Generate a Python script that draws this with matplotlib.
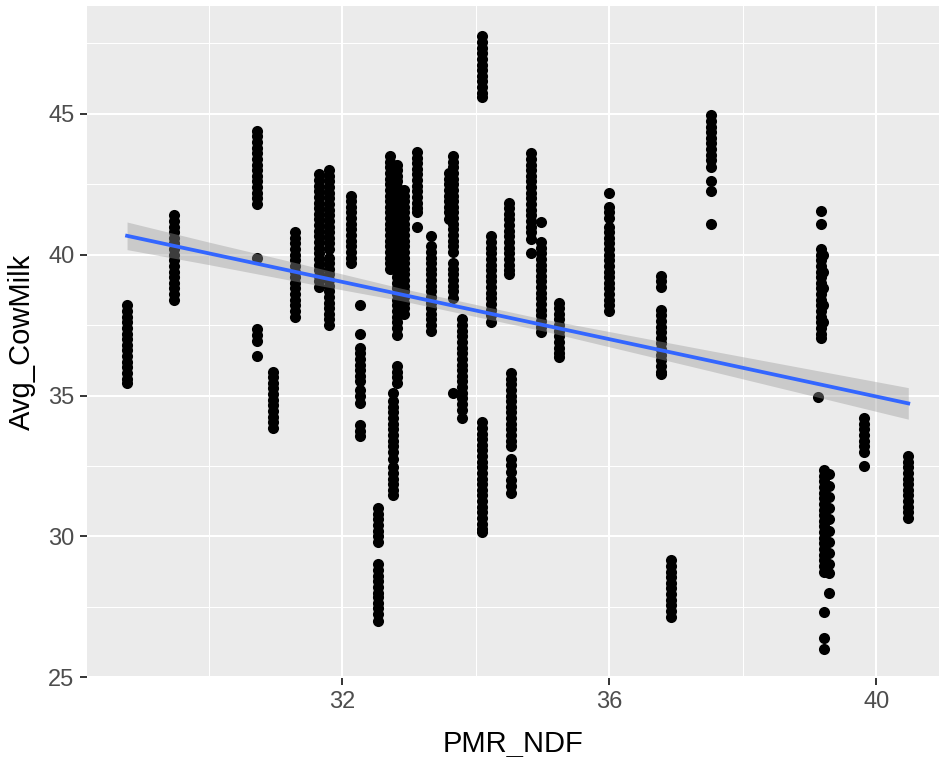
import numpy as np
import matplotlib
matplotlib.use("Agg")
import matplotlib.pyplot as plt
from matplotlib.ticker import MultipleLocator

plt.rcParams['font.family'] = ['Liberation Sans', 'DejaVu Sans']

# PMR_NDF de cada columna de puntos
pmr_ndf = [28.78, 29.48, 30.73, 30.97, 31.30, 31.65, 31.80, 32.14, 32.27, 32.54,
           32.72, 32.76, 32.83, 32.93, 33.12, 33.33, 33.60, 33.66, 33.79, 34.09,
           34.23, 34.50, 34.53, 34.83, 34.98, 35.25, 36.00, 36.78, 36.92, 37.53,
           39.13, 39.18, 39.21, 39.22, 39.29, 39.82, 40.48]

# Avg_CowMilk de los puntos de cada columna
cow_milk = [
    [38.2, 38.0, 37.8, 37.6, 37.4, 37.2, 37.0, 36.8, 36.6, 36.4, 36.2, 36.0, 35.8, 35.6, 35.45],
    [41.4, 41.2, 41.0, 40.8, 40.6, 40.4, 40.2, 40.0, 39.8, 39.6, 39.4, 39.2, 39.0, 38.8,
     38.6, 38.4],
    [44.4, 44.2, 44.0, 43.8, 43.6, 43.4, 43.2, 43.0, 42.8, 42.6, 42.4, 42.2, 42.0, 41.8,
     39.9, 37.35, 37.15, 36.95, 36.4],
    [35.85, 35.65, 35.45, 35.25, 35.05, 34.85, 34.65, 34.45, 34.25, 34.05, 33.85],
    [40.8, 40.6, 40.4, 40.2, 40.0, 39.8, 39.6, 39.4, 39.2, 39.0, 38.8, 38.6, 38.4, 38.2,
     38.0, 37.8],
    [42.85, 42.65, 42.45, 42.25, 42.05, 41.85, 41.65, 41.45, 41.25, 41.05, 40.85, 40.65,
     40.45, 40.25, 40.05, 39.85, 39.65, 39.45, 39.25, 39.05, 38.85],
    [43.0, 42.8, 42.6, 42.4, 42.2, 42.0, 41.8, 41.6, 41.4, 41.2, 41.0, 40.8, 40.6, 40.4,
     40.2, 39.9, 39.7, 39.5, 39.3, 39.1, 38.9, 38.7, 38.5, 38.3, 38.1, 37.9, 37.7, 37.5],
    [42.1, 41.9, 41.7, 41.5, 41.3, 41.1, 40.9, 40.7, 40.5, 40.3, 40.1, 39.9, 39.7],
    [38.2, 37.2, 36.7, 36.5, 36.3, 36.1, 35.9, 35.7, 35.5, 35.2, 35.0, 34.75, 33.95,
     33.75, 33.55],
    [31.0, 30.8, 30.6, 30.4, 30.2, 30.0, 29.8, 29.0, 28.8, 28.6, 28.4, 28.2, 28.0, 27.85,
     27.65, 27.45, 27.25, 27.0],
    [43.5, 43.3, 43.1, 42.9, 42.7, 42.5, 42.3, 42.1, 41.9, 41.7, 41.5, 41.3, 41.1, 40.9,
     40.7, 40.5, 40.3, 40.1, 39.9, 39.7, 39.5],
    [35.1, 34.8, 34.6, 34.4, 34.2, 34.0, 33.8, 33.6, 33.4, 33.2, 33.0, 32.75, 32.45,
     32.25, 32.05, 31.85, 31.65, 31.45],
    [43.2, 43.0, 42.8, 42.6, 42.4, 42.2, 42.0, 41.8, 41.6, 41.4, 41.2, 41.0, 40.8, 40.6,
     40.4, 40.2, 40.0, 39.8, 39.6, 39.4, 39.2, 39.0, 38.8, 38.6, 38.4, 38.2, 38.0, 37.8,
     37.6, 37.4, 37.15, 36.05, 35.85, 35.65, 35.45],
    [42.3, 42.1, 41.9, 41.7, 41.5, 41.3, 41.1, 40.9, 40.7, 40.5, 40.3, 40.1, 39.9, 39.7,
     39.5, 39.3, 39.1, 38.9, 38.7, 38.5, 38.3, 38.1, 37.9],
    [43.65, 43.45, 43.25, 43.05, 42.85, 42.65, 42.45, 42.25, 42.05, 41.85, 41.65, 41.5, 41.0],
    [40.65, 40.3, 40.1, 39.9, 39.7, 39.5, 39.3, 39.1, 38.9, 38.7, 38.5, 38.3, 38.1, 37.9,
     37.7, 37.5, 37.3],
    [42.9, 42.7, 42.5, 42.3, 42.1, 41.9, 41.7, 41.5, 41.25],
    [43.5, 43.3, 43.1, 42.9, 42.7, 42.5, 42.3, 42.1, 41.9, 41.7, 41.5, 41.3, 41.1, 40.9,
     40.7, 40.5, 40.3, 40.1, 39.7, 39.5, 39.3, 39.1, 38.9, 38.7, 38.45, 35.1],
    [37.7, 37.5, 37.3, 37.1, 36.9, 36.7, 36.5, 36.3, 36.1, 35.9, 35.7, 35.5, 35.3, 35.1,
     34.9, 34.7, 34.5, 34.2],
    [47.75, 47.55, 47.35, 47.15, 46.95, 46.75, 46.55, 46.35, 46.15, 45.95, 45.75, 45.6,
     34.05, 33.85, 33.65, 33.45, 33.25, 33.05, 32.85, 32.65, 32.45, 32.25, 32.05, 31.85,
     31.65, 31.45, 31.25, 31.05, 30.85, 30.65, 30.45, 30.25, 30.15],
    [40.65, 40.45, 40.25, 40.05, 39.85, 39.65, 39.45, 39.25, 39.05, 38.85, 38.65, 38.45,
     38.25, 38.05, 37.85, 37.6],
    [41.85, 41.65, 41.45, 41.25, 41.05, 40.85, 40.65, 40.45, 40.25, 40.05, 39.85, 39.65,
     39.45, 39.3],
    [35.8, 35.6, 35.4, 35.2, 35.0, 34.8, 34.6, 34.4, 34.2, 34.0, 33.8, 33.6, 33.4, 33.2,
     32.75, 32.55, 32.3, 32.0, 31.8, 31.55],
    [43.6, 43.4, 43.2, 43.0, 42.8, 42.6, 42.4, 42.2, 42.0, 41.8, 41.6, 41.4, 41.2, 41.0,
     40.8, 40.55, 40.05],
    [41.15, 40.45, 40.25, 40.05, 39.85, 39.65, 39.45, 39.25, 39.05, 38.85, 38.65, 38.45,
     38.25, 38.05, 37.85, 37.65, 37.45, 37.25],
    [38.3, 38.1, 37.9, 37.7, 37.5, 37.3, 37.1, 36.9, 36.7, 36.5, 36.35],
    [42.2, 41.7, 41.5, 41.3, 41.0, 40.8, 40.6, 40.4, 40.2, 40.0, 39.8, 39.6, 39.4, 39.2,
     39.0, 38.8, 38.6, 38.4, 38.2, 38.0],
    [39.25, 39.05, 38.85, 38.05, 37.85, 37.65, 37.45, 37.25, 37.05, 36.85, 36.65, 36.45,
     36.25, 36.05, 35.85, 35.75],
    [29.15, 28.95, 28.75, 28.55, 28.35, 28.15, 27.95, 27.75, 27.55, 27.35, 27.15],
    [44.95, 44.75, 44.55, 44.35, 44.15, 43.95, 43.75, 43.55, 43.35, 43.1, 42.6, 42.25, 41.1],
    [34.95],
    [41.55, 41.1, 40.2, 40.0, 39.8, 39.6, 39.4, 39.2, 39.0, 38.8, 38.6, 38.4, 38.2, 38.0,
     37.8, 37.6, 37.4, 37.2, 37.05],
    [40.0, 39.4, 38.8, 38.2, 37.6],
    [32.35, 32.15, 31.95, 31.75, 31.55, 31.35, 31.15, 30.95, 30.75, 30.55, 30.35, 30.15,
     29.95, 29.75, 29.55, 29.35, 29.15, 28.95, 28.75, 27.3, 26.4, 26.0],
    [32.2, 31.8, 31.4, 31.0, 30.6, 30.2, 29.8, 29.4, 29.0, 28.7, 28.0],
    [34.2, 34.0, 33.8, 33.6, 33.4, 33.2, 33.0, 32.5],
    [32.85, 32.65, 32.45, 32.25, 32.05, 31.85, 31.65, 31.45, 31.25, 31.05, 30.85, 30.65],
]

# recta lm y banda de confianza
fit_x = [28.78, 30.0, 31.3, 32.9, 35.0, 37.5, 40.48]
fit_y = [40.67, 40.05, 39.39, 38.58, 37.51, 36.24, 34.72]
band_lo = [40.18, 39.65, 39.06, 38.36, 37.30, 35.88, 34.16]
band_hi = [41.16, 40.45, 39.72, 38.80, 37.72, 36.60, 35.28]

xs = np.concatenate([[x] * len(ys) for x, ys in zip(pmr_ndf, cow_milk)])
ys = np.concatenate(cow_milk)

fig = plt.figure(figsize=(9.39, 7.57), dpi=100)
ax = fig.add_axes([87 / 939, 79 / 757, 852 / 939, 672 / 757])
ax.set_facecolor('#EBEBEB')

ax.scatter(xs, ys, s=64, color='black', linewidths=0, zorder=3)
ax.fill_between(fit_x, band_lo, band_hi, color='#999999', alpha=0.4, linewidth=0, zorder=4)
ax.plot(fit_x, fit_y, color='#3366FF', linewidth=2.7, zorder=5)

ax.set_xlim(28.18, 40.94)
ax.set_ylim(24.97, 48.83)
ax.xaxis.set_major_locator(MultipleLocator(4))
ax.xaxis.set_minor_locator(MultipleLocator(2))
ax.yaxis.set_major_locator(MultipleLocator(5))
ax.yaxis.set_minor_locator(MultipleLocator(2.5))

# rejilla estilo ggplot
ax.grid(which='major', color='white', linewidth=1.5)
ax.grid(which='minor', color='white', linewidth=0.75)
ax.set_axisbelow(True)
for s in ax.spines.values():
    s.set_visible(False)

ax.tick_params(which='major', length=5, width=1.4, color='#333333',
               labelsize=17, labelcolor='#4D4D4D', pad=4)
ax.tick_params(which='minor', length=0)

ax.set_xlabel('PMR_NDF', fontsize=21)
ax.set_ylabel('Avg_CowMilk', fontsize=21)
ax.xaxis.label.set_va('center')
ax.yaxis.label.set_va('center')
ax.xaxis.set_label_coords(0.5, (678 - 744) / 672)
ax.yaxis.set_label_coords((22 - 87) / 852, 0.5)

fig.savefig('out.png', dpi=100)
